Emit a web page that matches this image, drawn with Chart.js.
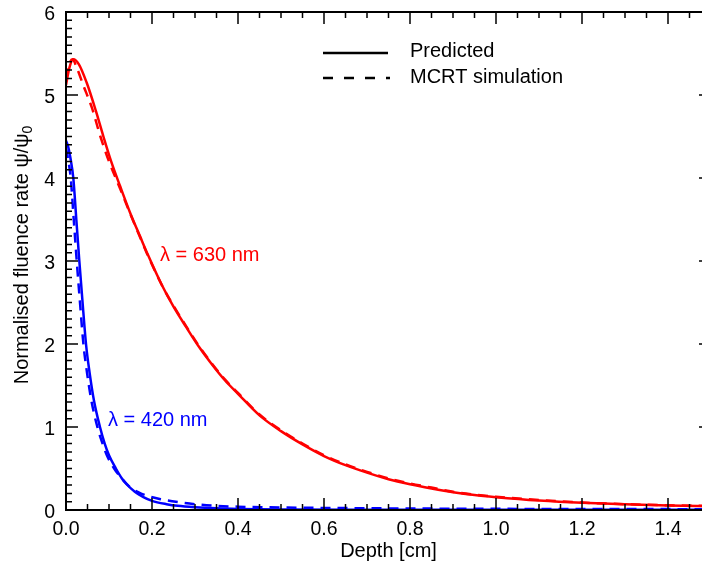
<!DOCTYPE html>
<html>
<head>
<meta charset="utf-8">
<script src="https://cdn.jsdelivr.net/npm/chart.js@4.4.1/dist/chart.umd.min.js"></script>
<style>
  html, body { margin: 0; padding: 0; background: #fff; overflow: hidden; width: 702px; height: 566px; }
  canvas { display: block; }
</style>
</head>
<body>
<canvas id="fluenceChart" width="712" height="566"></canvas>
<script>
// depth [cm] and normalised fluence rate
const redPredDepth = [0, 0.008, 0.017, 0.03, 0.048, 0.07, 0.087, 0.105, 0.126, 0.15, 0.172, 0.19, 0.222, 0.25, 0.28, 0.31, 0.34, 0.37, 0.4, 0.45, 0.5, 0.55, 0.6, 0.65, 0.7, 0.75, 0.8, 0.85, 0.9, 0.95, 1.0, 1.1, 1.2, 1.3, 1.4, 1.5];
const redPred      = [5.12, 5.33, 5.43, 5.37, 5.15, 4.80, 4.50, 4.20, 3.90, 3.57, 3.30, 3.08, 2.72, 2.45, 2.20, 1.96, 1.75, 1.56, 1.40, 1.14, 0.95, 0.79, 0.65, 0.54, 0.45, 0.37, 0.31, 0.26, 0.215, 0.18, 0.155, 0.115, 0.087, 0.068, 0.055, 0.045];

const redMcrtDepth = [0, 0.008, 0.015, 0.025, 0.04, 0.06, 0.08, 0.1, 0.126, 0.15, 0.172, 0.19, 0.222, 0.25, 0.28, 0.31, 0.34, 0.37, 0.4, 0.45, 0.5, 0.55, 0.6, 0.65, 0.7, 0.75, 0.8, 0.85, 0.9, 0.95, 1.0, 1.1, 1.2, 1.3, 1.4, 1.5];
const redMcrt      = [5.2, 5.38, 5.43, 5.33, 5.12, 4.85, 4.50, 4.20, 3.87, 3.56, 3.29, 3.07, 2.72, 2.46, 2.21, 1.97, 1.76, 1.57, 1.41, 1.15, 0.96, 0.80, 0.66, 0.55, 0.46, 0.38, 0.32, 0.27, 0.22, 0.185, 0.16, 0.12, 0.09, 0.07, 0.057, 0.047];

const bluePredDepth = [0, 0.005, 0.01, 0.017, 0.024, 0.031, 0.039, 0.0465, 0.055, 0.065, 0.079, 0.09, 0.1, 0.116, 0.13, 0.141, 0.16, 0.18, 0.2, 0.234, 0.26, 0.3, 0.35, 0.4, 0.5, 0.7, 1.0, 1.5];
const bluePred      = [4.45, 4.38, 4.25, 4.0, 3.5, 3.0, 2.47, 2.0, 1.65, 1.32, 1.0, 0.80, 0.66, 0.50, 0.38, 0.31, 0.22, 0.155, 0.11, 0.07, 0.05, 0.033, 0.02, 0.013, 0.007, 0.004, 0.003, 0.002];

const blueMcrtDepth = [0, 0.004, 0.011, 0.018, 0.025, 0.033, 0.0405, 0.049, 0.059, 0.073, 0.085, 0.095, 0.112, 0.128, 0.15, 0.17, 0.19, 0.22, 0.26, 0.3, 0.35, 0.4, 0.5, 0.6, 0.8, 1.0, 1.2, 1.5];
const blueMcrt      = [4.36, 4.25, 4.0, 3.5, 3.0, 2.47, 2.0, 1.65, 1.32, 1.0, 0.80, 0.66, 0.50, 0.39, 0.27, 0.21, 0.17, 0.13, 0.095, 0.07, 0.05, 0.04, 0.03, 0.025, 0.018, 0.014, 0.012, 0.01];

const xTickStep = 0.2;
const yTickStep = 1;

const FONT = '"Liberation Sans", Arial, Helvetica, sans-serif';

function toPoints(xs, ys) {
    return xs.map((x, i) => ({ x: x, y: ys[i] }));
}

function curve(xs, ys, color, dashed) {
    return {
        data: toPoints(xs, ys),
        borderColor: color,
        borderWidth: 2.5,
        borderDash: dashed ? [10, 7] : [],
        pointRadius: 0,
        fill: false,
        cubicInterpolationMode: 'monotone'
    };
}

// frame, inward ticks on all four sides, axis titles, legend and curve labels
const decorPlugin = {
    id: 'decor',
    afterDraw(chart) {
        const ctx = chart.ctx;
        const area = chart.chartArea;
        const xs = chart.scales.x;
        const ys = chart.scales.y;
        ctx.save();
        ctx.strokeStyle = '#000';
        ctx.lineWidth = 2;
        ctx.strokeRect(area.left, area.top, area.right - area.left, area.bottom - area.top);

        ctx.lineWidth = 1.5;
        ctx.beginPath();
        for (let i = 0; i <= 30; i++) {
            const px = xs.getPixelForValue(i * 0.05);
            const len = i % 4 === 0 ? 12 : 6;
            ctx.moveTo(px, area.bottom); ctx.lineTo(px, area.bottom - len);
            ctx.moveTo(px, area.top); ctx.lineTo(px, area.top + len);
        }
        for (let i = 0; i <= 60; i++) {
            const py = ys.getPixelForValue(i / 10);
            const len = i % 10 === 0 ? 12 : 6;
            ctx.moveTo(area.left, py); ctx.lineTo(area.left + len, py);
            ctx.moveTo(area.right, py); ctx.lineTo(area.right - len, py);
        }
        ctx.stroke();

        // x title
        ctx.fillStyle = '#000';
        ctx.font = '20px ' + FONT;
        ctx.textAlign = 'center';
        ctx.textBaseline = 'alphabetic';
        ctx.fillText('Depth [cm]', (area.left + area.right) / 2, 557);

        // y title with subscript
        const main = 'Normalised fluence rate \u03c8/\u03c8';
        ctx.font = '20px ' + FONT;
        const wMain = ctx.measureText(main).width;
        ctx.font = '14px ' + FONT;
        const wSub = ctx.measureText('0').width;
        const total = wMain + wSub;
        ctx.save();
        ctx.translate(28, 255);
        ctx.rotate(-Math.PI / 2);
        ctx.textAlign = 'left';
        ctx.font = '20px ' + FONT;
        ctx.fillText(main, -total / 2, 0);
        ctx.font = '14px ' + FONT;
        ctx.fillText('0', -total / 2 + wMain, 4);
        ctx.restore();

        // legend
        ctx.lineWidth = 2.5;
        ctx.beginPath();
        ctx.moveTo(323, 53); ctx.lineTo(388, 53);
        ctx.stroke();
        ctx.setLineDash([10, 11]);
        ctx.beginPath();
        ctx.moveTo(323, 78); ctx.lineTo(390, 78);
        ctx.stroke();
        ctx.setLineDash([]);
        ctx.textAlign = 'left';
        ctx.textBaseline = 'middle';
        ctx.font = '20px ' + FONT;
        ctx.fillText('Predicted', 410, 51);
        ctx.fillText('MCRT simulation', 410, 77);

        // curve labels
        ctx.fillStyle = '#ff0000';
        ctx.fillText('\u03bb = 630 nm', 160, 255);
        ctx.fillStyle = '#0000ff';
        ctx.fillText('\u03bb = 420 nm', 108, 420);
        ctx.restore();
    }
};

const tickFont = { family: FONT, size: 19.5 };

new Chart(document.getElementById('fluenceChart').getContext('2d'), {
    type: 'line',
    data: {
        datasets: [
            curve(redPredDepth, redPred, '#ff0000', false),
            curve(redMcrtDepth, redMcrt, '#ff0000', true),
            curve(bluePredDepth, bluePred, '#0000ff', false),
            curve(blueMcrtDepth, blueMcrt, '#0000ff', true)
        ]
    },
    options: {
        responsive: false,
        animation: false,
        devicePixelRatio: 1,
        layout: { padding: { top: 12, right: 1, left: 0, bottom: 0 } },
        plugins: {
            legend: { display: false },
            tooltip: { enabled: false }
        },
        scales: {
            x: {
                type: 'linear',
                min: 0,
                max: 1.5,
                grid: { display: false, drawTicks: false },
                border: { display: false },
                ticks: {
                    stepSize: xTickStep,
                    includeBounds: false,
                    autoSkip: false,
                    maxRotation: 0,
                    padding: 8,
                    color: '#000',
                    font: tickFont,
                    callback: v => v.toFixed(1)
                },
                afterFit: scale => {
                    scale.height = 56;
                    scale.paddingLeft = 0;
                    scale.paddingRight = 0;
                }
            },
            y: {
                min: 0,
                max: 6,
                grid: { display: false, drawTicks: false },
                border: { display: false },
                ticks: {
                    stepSize: yTickStep,
                    autoSkip: false,
                    padding: 11,
                    labelOffset: 3,
                    color: '#000',
                    font: tickFont,
                    callback: v => String(v)
                },
                afterFit: scale => {
                    scale.width = 66;
                    scale.paddingTop = 0;
                    scale.paddingBottom = 0;
                }
            }
        }
    },
    plugins: [decorPlugin]
});
</script>
</body>
</html>
